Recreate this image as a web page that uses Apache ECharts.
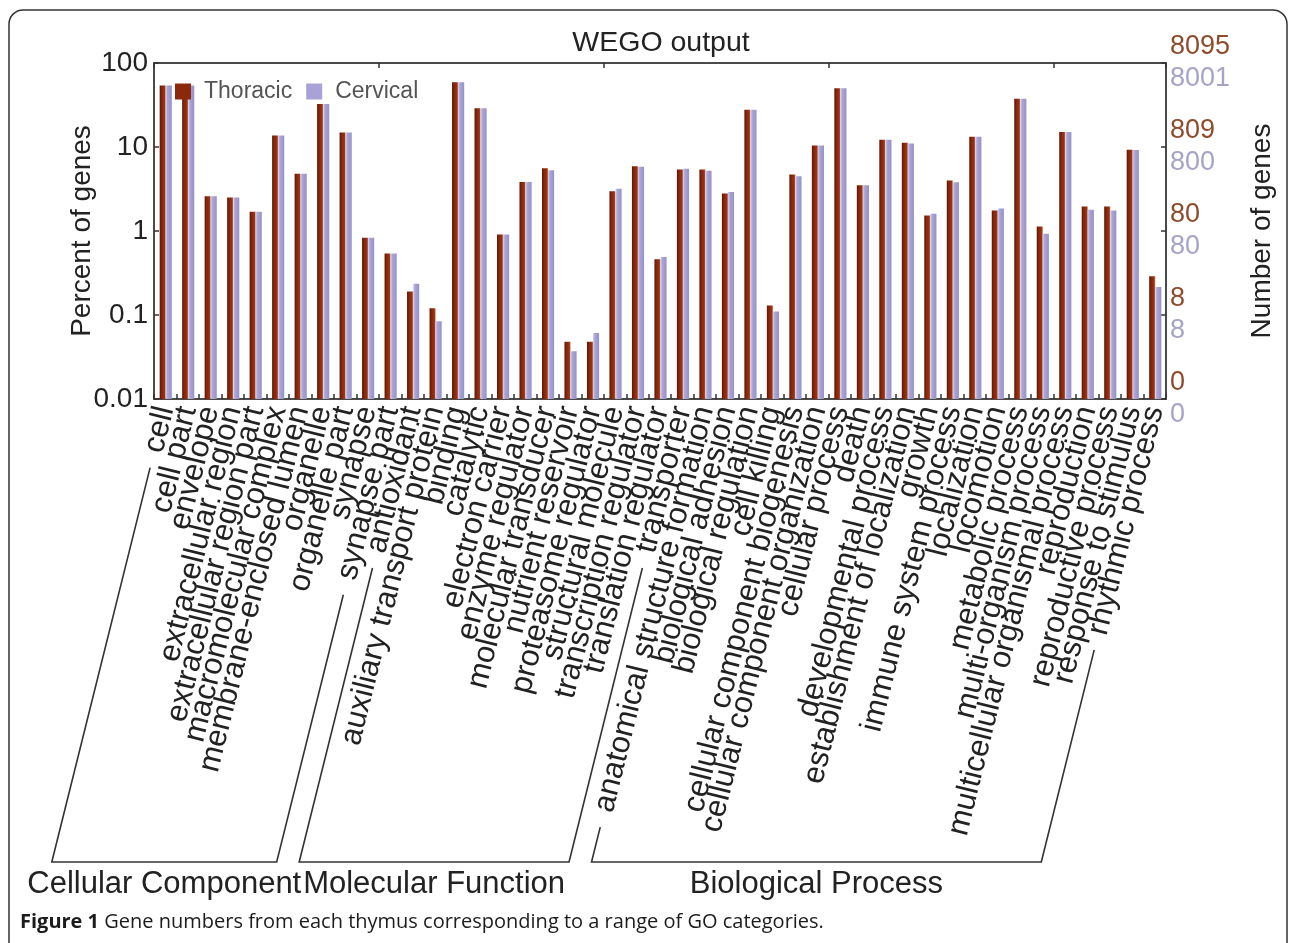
<!DOCTYPE html>
<html>
<head>
<meta charset="utf-8">
<script src="https://cdn.jsdelivr.net/npm/echarts@6/dist/echarts.min.js"></script>
<style>
  html, body { margin: 0; padding: 0; background: #fff; }
  #chart { width: 1292px; height: 943px; }
</style>
</head>
<body>
<div id="chart"></div>
<script>
// ---------------- data ----------------
const categories = [
  'cell', 'cell part', 'envelope', 'extracellular region', 'extracellular region part',
  'macromolecular complex', 'membrane-enclosed lumen', 'organelle', 'organelle part',
  'synapse', 'synapse part',
  'antioxidant', 'auxiliary transport protein', 'binding', 'catalytic', 'electron carrier',
  'enzyme regulator', 'molecular transducer', 'nutrient reservoir', 'proteasome regulator',
  'structural molecule', 'transcription regulator', 'translation regulator', 'transporter',
  'anatomical structure formation', 'biological adhesion', 'biological regulation', 'cell killing',
  'cellular component biogenesis', 'cellular component organization', 'cellular process', 'death',
  'developmental process', 'establishment of localization', 'growth', 'immune system process',
  'localization', 'locomotion', 'metabolic process', 'multi-organism process',
  'multicellular organismal process', 'reproduction', 'reproductive process',
  'response to stimulus', 'rhythmic process'
];
const thoracic = [
  54, 54, 2.6, 2.5, 1.7, 13.7, 4.8, 32.6, 14.9, 0.83, 0.54,
  0.19, 0.12, 59, 29, 0.91, 3.84, 5.6, 0.048, 0.048, 2.97, 5.9, 0.46, 5.4,
  5.4, 2.8, 27.7, 0.13, 4.7, 10.4, 50, 3.5, 12.2, 11.2, 1.53, 4.0, 13.2, 1.76, 37.6, 1.13,
  15.1, 1.96, 1.96, 9.3, 0.29
];
const cervical = [
  54, 54, 2.6, 2.5, 1.7, 13.7, 4.8, 32.6, 14.9, 0.83, 0.54,
  0.236, 0.084, 59, 29, 0.91, 3.84, 5.3, 0.037, 0.061, 3.19, 5.8, 0.49, 5.5,
  5.2, 2.92, 27.7, 0.11, 4.5, 10.4, 50, 3.5, 12.2, 11.0, 1.6, 3.8, 13.2, 1.85, 37.6, 0.93,
  15.1, 1.79, 1.76, 9.2, 0.215
];
const percentTicks = [0.01, 0.1, 1, 10, 100];
const percentTickLabels = ['0.01', '0.1', '1', '10', '100'];
const thoracicCountLabels = ['0', '8', '80', '809', '8095'];
const cervicalCountLabels = ['0', '8', '80', '800', '8001'];
const groupNames = ['Cellular Component', 'Molecular Function', 'Biological Process'];
const groupStart = [0, 11, 24];
const groupEnd = [10, 23, 44];
const seriesNames = ['Thoracic', 'Cervical'];
const titleText = 'WEGO output';
const leftAxisName = 'Percent of genes';
const rightAxisName = 'Number of genes';
const captionBold = 'Figure 1';
const captionText = ' Gene numbers from each thymus corresponding to a range of GO categories.';

// ---------------- styling ----------------
const FONT = '"Liberation Sans", Arial, Helvetica, sans-serif';
const LABEL_SIZE = 31;
const LABEL_ROT = 76;
const LABEL_MARGIN = 8;
const Y_MIN = 0.01, Y_MAX = 100;
const BRACKET_Y = 862;
const brownColor = '#8b2a0a';
const lavColor = '#a7a3d6';

const chart = echarts.init(document.getElementById('chart'), null, { renderer: 'canvas' });

function tickIndex(v) {
  let best = 0;
  for (let i = 0; i < percentTicks.length; i++) {
    if (Math.abs(Math.log10(percentTicks[i]) - Math.log10(v)) < Math.abs(Math.log10(percentTicks[best]) - Math.log10(v))) best = i;
  }
  return best;
}

function barSeries(name, values, side, stops, color) {
  return {
    type: 'custom',
    name: name,
    coordinateSystem: 'cartesian2d',
    xAxisIndex: 0,
    yAxisIndex: 0,
    itemStyle: { color: color },
    data: values.map((v, i) => [i, v]),
    encode: { x: 0, y: 1 },
    renderItem: function (params, api) {
      const i = api.value(0);
      const v = api.value(1);
      const top = api.coord([i, v]);
      const base = api.coord([i, Y_MIN]);
      const catW = api.coord([1, v])[0] - api.coord([0, v])[0];
      const w = catW * 0.27;
      const x = side === 0 ? top[0] - w + 0.5 : top[0] + 0.5;
      return {
        type: 'rect',
        shape: { x: x, y: top[1], width: w, height: base[1] - top[1] },
        style: {
          fill: new echarts.graphic.LinearGradient(0, 0, 1, 0, stops)
        }
      };
    }
  };
}

const axisLineStyle = { color: '#4a4a4a', width: 2 };

const option = {
  backgroundColor: '#ffffff',
  animation: false,
  title: {
    text: titleText,
    left: 656,
    textAlign: 'center',
    top: 24,
    textStyle: { fontFamily: FONT, fontSize: 28.5, fontWeight: 'normal', color: '#222' }
  },
  legend: {
    data: seriesNames,
    left: 170,
    top: 75,
    icon: 'rect',
    itemWidth: 16,
    itemHeight: 16,
    itemGap: 14,
    textStyle: { fontFamily: FONT, fontSize: 23, color: '#555', padding: [0, 0, 0, 8] }
  },
  grid: {
    left: 154, right: 126, top: 63, bottom: 943 - 399,
    containLabel: false,
    outerBoundsMode: 'none'
  },
  xAxis: [
    {
      type: 'category',
      data: categories,
      position: 'bottom',
      boundaryGap: true,
      axisLine: { show: true, lineStyle: axisLineStyle },
      axisTick: { show: true, inside: true, length: 5, lineStyle: { color: '#333', width: 1.5 } },
      axisLabel: {
        interval: 0,
        rotate: LABEL_ROT,
        margin: LABEL_MARGIN,
        fontFamily: FONT,
        fontSize: LABEL_SIZE,
        color: '#222',
        hideOverlap: false
      },
      splitLine: { show: false }
    },
    {
      type: 'category',
      data: categories,
      position: 'top',
      boundaryGap: true,
      axisLine: { show: true, lineStyle: axisLineStyle },
      axisTick: { show: true, inside: true, length: 5, lineStyle: { color: '#333', width: 1.5 } },
      axisLabel: { show: false },
      splitLine: { show: false }
    }
  ],
  yAxis: [
    {
      type: 'log',
      logBase: 10,
      min: Y_MIN,
      max: Y_MAX,
      position: 'left',
      axisLine: { show: true, lineStyle: axisLineStyle },
      axisTick: { show: true, inside: true, length: 5, lineStyle: { color: '#333', width: 1.5 } },
      axisLabel: {
        fontFamily: FONT, fontSize: 28, color: '#222', margin: 6,
        formatter: function (v) { return percentTickLabels[tickIndex(v)]; }
      },
      splitLine: { show: false },
      name: leftAxisName,
      nameLocation: 'middle',
      nameRotate: 90,
      nameGap: 58,
      nameMoveOverlap: false,
      nameTextStyle: { fontFamily: FONT, fontSize: 28, color: '#222' }
    },
    {
      type: 'log',
      logBase: 10,
      min: Y_MIN,
      max: Y_MAX,
      position: 'right',
      axisLine: { show: true, lineStyle: axisLineStyle },
      axisTick: { show: true, inside: true, length: 5, lineStyle: { color: '#333', width: 1.5 } },
      axisLabel: {
        margin: 4,
        align: 'left',
        formatter: function (v) {
          const k = tickIndex(v);
          return '{t|' + thoracicCountLabels[k] + '}\n{c|' + cervicalCountLabels[k] + '}';
        },
        rich: {
          t: { fontFamily: FONT, fontSize: 27, color: '#8e4b2c', lineHeight: 32 },
          c: { fontFamily: FONT, fontSize: 27, color: '#a6a3c6', lineHeight: 32 }
        }
      },
      splitLine: { show: false },
      name: rightAxisName,
      nameLocation: 'middle',
      nameRotate: 90,
      nameGap: 82,
      nameMoveOverlap: false,
      nameTextStyle: { fontFamily: FONT, fontSize: 28, color: '#222' }
    }
  ],
  series: [
    barSeries(seriesNames[0], thoracic, 0,
      [{ offset: 0, color: '#5e1503' }, { offset: 0.35, color: '#86260a' }, { offset: 0.8, color: '#9a3412' }, { offset: 1, color: '#d2805e' }],
      brownColor),
    barSeries(seriesNames[1], cervical, 1,
      [{ offset: 0, color: '#d3d1f0' }, { offset: 0.3, color: '#aaa6da' }, { offset: 1, color: '#9591c6' }],
      lavColor)
  ]
};

chart.setOption(option);

// ---------------- group brackets (derived from axis label geometry) ----------------
const theta = LABEL_ROT * Math.PI / 180;
const ctx = document.createElement('canvas').getContext('2d');
ctx.font = LABEL_SIZE + 'px ' + FONT;
const GAP = 16;

function labelTail(idx) {
  const p = chart.convertToPixel({ xAxisIndex: 0, yAxisIndex: 0 }, [idx, Y_MIN]);
  const w = ctx.measureText(categories[idx]).width + GAP;
  const y0 = p[1] + LABEL_MARGIN;
  return [p[0] - w * Math.cos(theta), y0 + w * Math.sin(theta)];
}
function toBase(pt) {
  return [pt[0] - (BRACKET_Y - pt[1]) / Math.tan(theta), BRACKET_Y];
}

const graphics = [];
for (let g = 0; g < groupNames.length; g++) {
  const lt = labelTail(groupStart[g]);
  const rt = labelTail(groupEnd[g]);
  const lb = toBase(lt);
  const rb = toBase(rt);
  graphics.push({
    type: 'polyline',
    shape: { points: [lt, lb, rb, rt] },
    style: { stroke: '#333', lineWidth: 1.6, fill: null }
  });
  graphics.push({
    type: 'text',
    x: (lb[0] + rb[0]) / 2,
    y: 884,
    style: {
      text: groupNames[g],
      fontFamily: FONT,
      fontSize: 31,
      fill: '#222',
      align: 'center',
      verticalAlign: 'middle'
    }
  });
}
// figure frame
graphics.push({
  type: 'rect',
  shape: { x: 9, y: 10, width: 1278, height: 960, r: 14 },
  style: { stroke: '#333', lineWidth: 1.5, fill: null },
  z: -1
});
// caption
graphics.push({
  type: 'text',
  x: 20,
  y: 922,
  style: {
    text: '{b|' + captionBold + '}{n|' + captionText + '}',
    verticalAlign: 'middle',
    rich: {
      b: { fontFamily: '"Open Sans", sans-serif', fontSize: 20, fontWeight: 'bold', fill: '#1c1c1c' },
      n: { fontFamily: '"Open Sans", sans-serif', fontSize: 20, fill: '#1c1c1c' }
    }
  }
});

chart.setOption({ graphic: graphics });
</script>
</body>
</html>
